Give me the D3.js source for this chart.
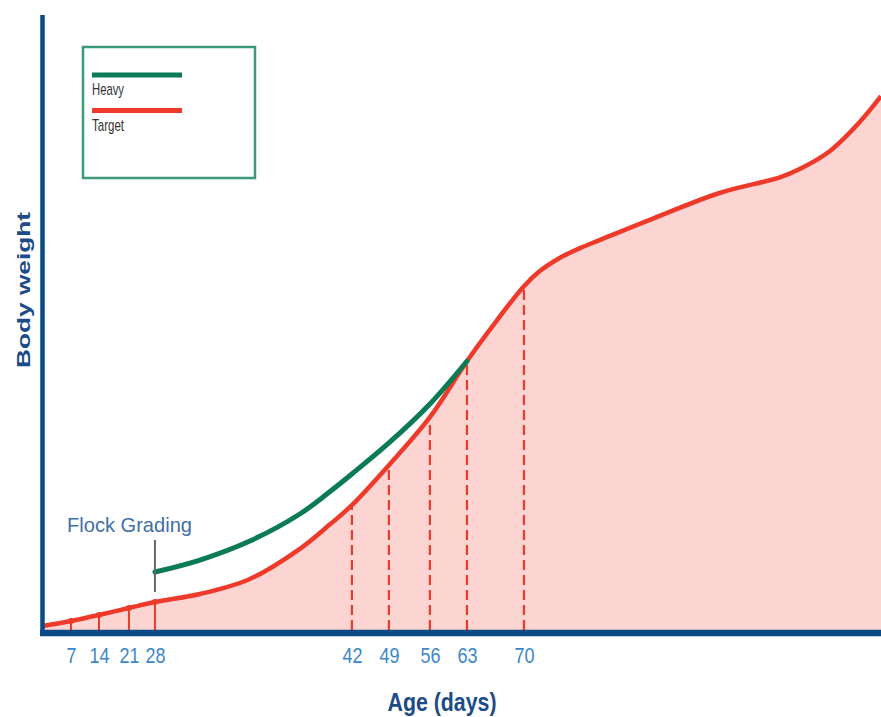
<!DOCTYPE html>
<html>
<head>
<meta charset="utf-8">
<script src="https://cdn.jsdelivr.net/npm/d3@7"></script>
<style>
  body { margin: 0; background: #fff; }
  svg { display: block; font-family: "Liberation Sans", Arial, sans-serif; }
</style>
</head>
<body>
<svg id="chart" width="881" height="717"></svg>
<script>
// Age in days and relative body weight for the target and heavy flocks
const targetDays = [0, 7, 14, 21, 28, 31.2, 34.75, 38.3, 40.4, 42, 49, 56, 63, 65.8, 70, 71.9, 74.2, 76.6, 78.9, 84.8, 93.1, 100.1, 102.5, 106, 109.5, 112];
const targetWeight = [0.65, 1.46, 2.44, 3.58, 4.55, 5.85, 8.3, 13.2, 17.1, 20.3, 26.8, 34.6, 43.7, 48.8, 55.9, 58.4, 60.5, 62.1, 63.4, 66.7, 71.1, 73.6, 75.0, 77.9, 82.6, 86.8];
const heavyDays = [28, 31.2, 34.75, 38.3, 40.4, 42, 49, 56, 63];
const heavyWeight = [9.43, 11.38, 14.47, 18.86, 22.44, 25.37, 30.41, 36.75, 43.7];

// Labelled ages on the x axis
const tickDays = [7, 14, 21, 28, 42, 49, 56, 63, 70];
const solidMarkDays = [7, 14, 21, 28];
const dashedMarkDays = [42, 49, 56, 63, 70];
const gradingDay = 28;

const legendItems = ["Heavy", "Target"];

// Layout: the age axis is drawn with uneven spacing between breakpoints
const W = 881, H = 717;
const plotLeft = 42.5, plotRight = 881, plotTop = 15, plotBottom = 630;
const xStops = [0, 7, 14, 21, 28, 42, 49, 56, 63, 70, 112];
const xStopFrac = [0, 0.0340, 0.0674, 0.1031, 0.1341, 0.3690, 0.4131, 0.4620, 0.5062, 0.5742, 1];

const colors = {
  target: "#ee3a2b",
  heavy: "#0b7b55",
  fill: "#fcd5d2",
  axis: "#0c4a86",
  tick: "#3b87cc",
  title: "#1b4c88",
  legendBorder: "#3c9a7a"
};

const svg = d3.select("#chart");

const x = d3.scaleLinear()
  .domain(xStops)
  .range(xStopFrac.map(f => plotLeft + f * (plotRight - plotLeft)));
const y = d3.scaleLinear().domain([0, 100]).range([plotBottom, plotTop]);

const target = targetDays.map((d, i) => ({ day: d, w: targetWeight[i] }));
const heavy = heavyDays.map((d, i) => ({ day: d, w: heavyWeight[i] }));
const targetAt = day => targetWeight[targetDays.indexOf(day)];

const smooth = d3.curveCatmullRom.alpha(0.5);

// Shaded area under the target curve
svg.append("path")
  .datum(target)
  .attr("fill", colors.fill)
  .attr("d", d3.area()
    .x(d => x(d.day))
    .y0(y(0))
    .y1(d => y(d.w))
    .curve(smooth));

// Weighing markers from the axis up to the target curve
svg.append("g").selectAll("line")
  .data(solidMarkDays)
  .join("line")
  .attr("x1", d => x(d)).attr("x2", d => x(d))
  .attr("y1", y(0)).attr("y2", d => y(targetAt(d)))
  .attr("stroke", colors.target)
  .attr("stroke-width", 2);

svg.append("g").selectAll("circle")
  .data(solidMarkDays)
  .join("circle")
  .attr("cx", d => x(d))
  .attr("cy", d => y(targetAt(d)))
  .attr("r", 3)
  .attr("fill", colors.target);

svg.append("g").selectAll("line")
  .data(dashedMarkDays)
  .join("line")
  .attr("x1", d => x(d)).attr("x2", d => x(d))
  .attr("y1", y(0)).attr("y2", d => y(targetAt(d)))
  .attr("stroke", colors.target)
  .attr("stroke-width", 2.2)
  .attr("stroke-dasharray", "10,5");

const line = d3.line()
  .x(d => x(d.day))
  .y(d => y(d.w))
  .curve(smooth);

svg.append("path")
  .datum(target)
  .attr("fill", "none")
  .attr("stroke", colors.target)
  .attr("stroke-width", 4.5)
  .attr("d", line);

svg.append("path")
  .datum(heavy)
  .attr("fill", "none")
  .attr("stroke", colors.heavy)
  .attr("stroke-width", 5)
  .attr("stroke-linecap", "round")
  .attr("d", line);

// Flock grading marker
svg.append("line")
  .attr("x1", x(gradingDay)).attr("x2", x(gradingDay))
  .attr("y1", 540).attr("y2", 592)
  .attr("stroke", "#666")
  .attr("stroke-width", 2);

svg.append("text")
  .attr("x", 67).attr("y", 532)
  .attr("font-size", 21)
  .attr("fill", "#3f6fa6")
  .attr("textLength", 125)
  .attr("lengthAdjust", "spacingAndGlyphs")
  .text("Flock Grading");

// Axes
svg.append("line")
  .attr("x1", plotLeft).attr("x2", plotLeft)
  .attr("y1", plotTop).attr("y2", plotBottom + 6)
  .attr("stroke", colors.axis)
  .attr("stroke-width", 4.5);

svg.append("line")
  .attr("x1", plotLeft - 2.5).attr("x2", plotRight)
  .attr("y1", plotBottom + 3).attr("y2", plotBottom + 3)
  .attr("stroke", colors.axis)
  .attr("stroke-width", 6.5);

const xAxis = svg.append("g")
  .attr("transform", `translate(0,${plotBottom})`)
  .call(d3.axisBottom(x).tickValues(tickDays).tickSize(0).tickFormat(d3.format("d")));
xAxis.select(".domain").remove();
xAxis.selectAll("text")
  .attr("dy", null)
  .attr("y", 33)
  .attr("font-size", 22)
  .attr("font-family", "'Liberation Sans', Arial, sans-serif")
  .attr("fill", colors.tick)
  .attr("textLength", d => String(d).length * 10)
  .attr("lengthAdjust", "spacingAndGlyphs");

svg.append("text")
  .attr("x", 442).attr("y", 711)
  .attr("text-anchor", "middle")
  .attr("font-size", 25)
  .attr("font-weight", "bold")
  .attr("fill", colors.title)
  .attr("textLength", 109)
  .attr("lengthAdjust", "spacingAndGlyphs")
  .text("Age (days)");

svg.append("text")
  .attr("transform", "translate(30,290) rotate(-90)")
  .attr("text-anchor", "middle")
  .attr("font-size", 18)
  .attr("font-weight", "bold")
  .attr("fill", colors.title)
  .attr("textLength", 156)
  .attr("lengthAdjust", "spacingAndGlyphs")
  .text("Body weight");

// Legend
const legend = svg.append("g");
legend.append("rect")
  .attr("x", 83).attr("y", 47)
  .attr("width", 172).attr("height", 131)
  .attr("fill", "#fff")
  .attr("stroke", colors.legendBorder)
  .attr("stroke-width", 2.5);

const legendColors = [colors.heavy, colors.target];
const legendRows = legend.selectAll("g.row")
  .data(legendItems)
  .join("g")
  .attr("class", "row")
  .attr("transform", (d, i) => `translate(92,${75 + i * 35.5})`);
legendRows.append("line")
  .attr("x1", 0).attr("x2", 90)
  .attr("stroke", (d, i) => legendColors[i])
  .attr("stroke-width", 5);
legendRows.append("text")
  .attr("x", 0).attr("y", 20)
  .attr("font-size", 17)
  .attr("fill", "#333")
  .attr("textLength", 32)
  .attr("lengthAdjust", "spacingAndGlyphs")
  .text(d => d);
</script>
</body>
</html>
